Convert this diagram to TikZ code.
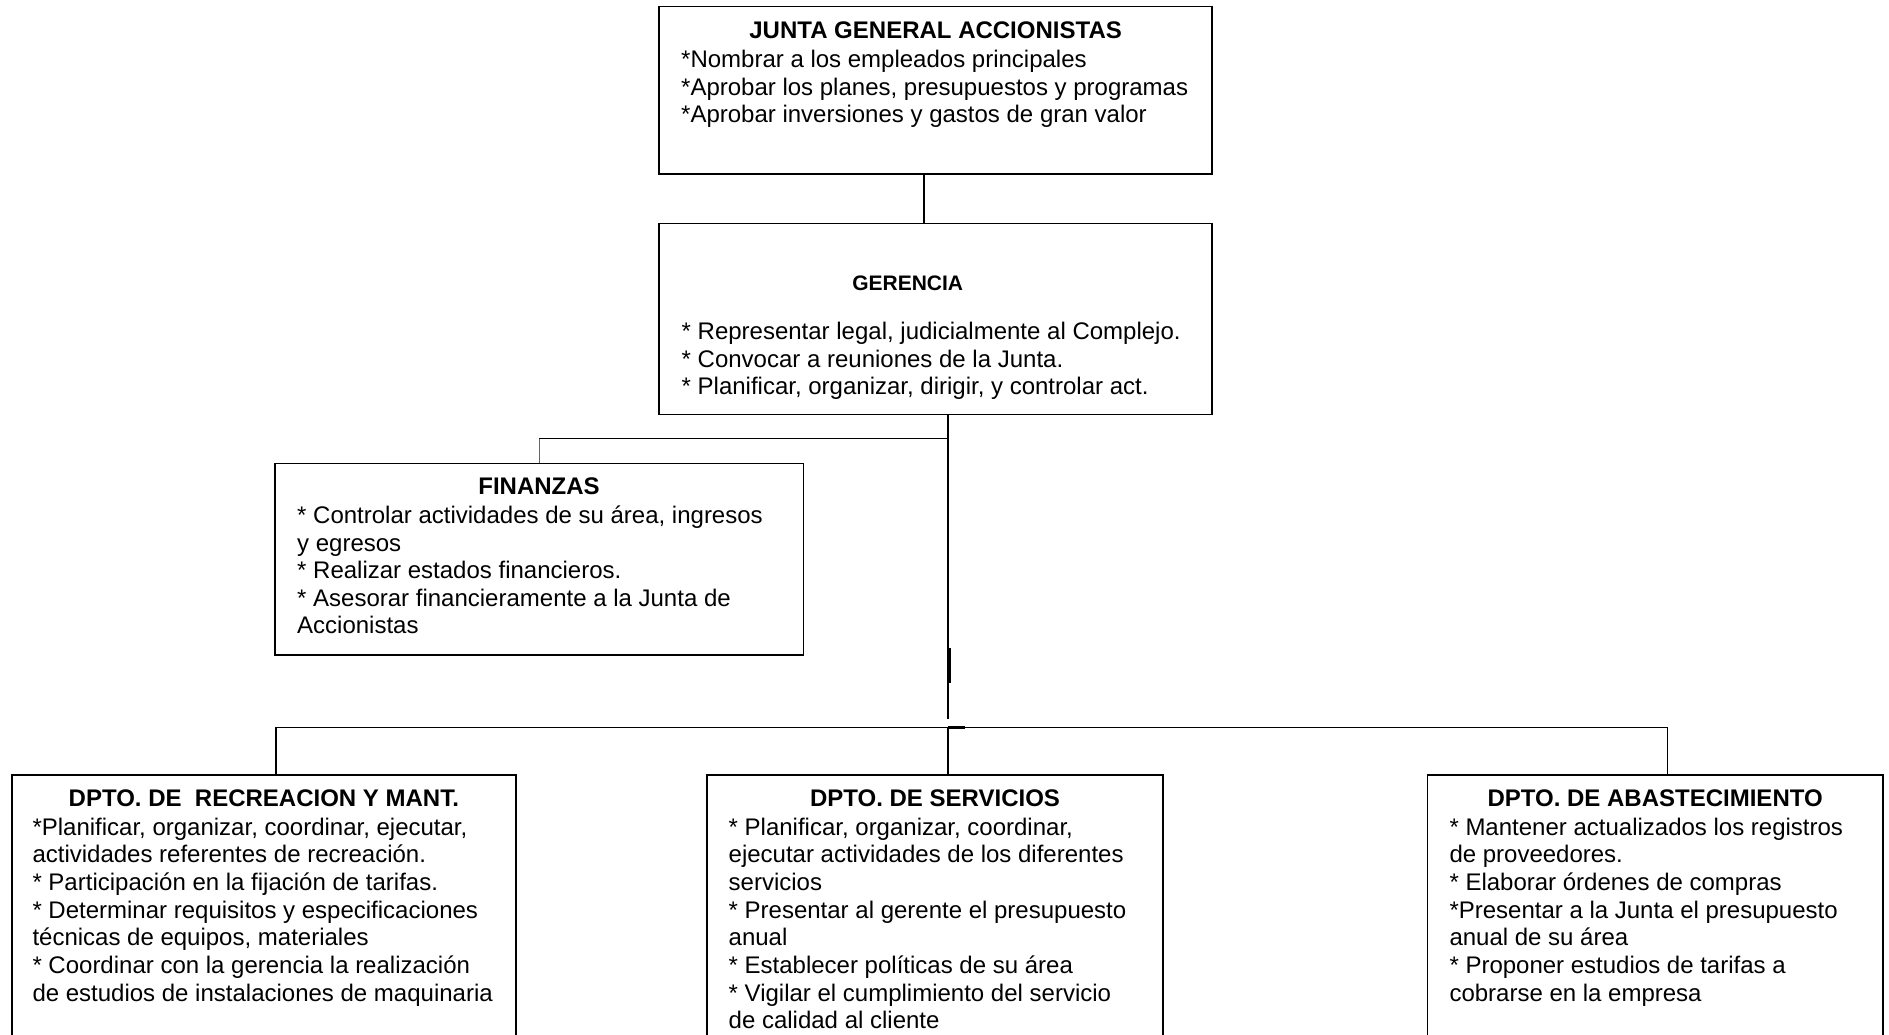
\documentclass[tikz,border=0pt]{standalone}
\usepackage{fontspec}
\setmainfont{Liberation Sans}
\newcommand{\boxlines}[5]{%
  \foreach \myline [count=\i] in {#5} {\node[txt] (#1-\i) at (#2, {#3+(\i-1)*#4}) {\myline};}}
\begin{document}
\begin{tikzpicture}[x=1pt,y=-1pt,
  box/.style={draw, line width=1.6pt, inner sep=0pt, outer sep=0pt},
  ttl/.style={font=\fontsize{24}{27}\selectfont\bfseries, inner sep=0pt, anchor=base},
  txt/.style={font=\fontsize{24}{27}\selectfont, inner sep=0pt, anchor=base west},
  conn/.style={line width=1.4pt},
  thinconn/.style={line width=0.9pt, black!60}]
\clip (0,0) rectangle (1889,1035);
\fill[white] (0,0) rectangle (1889,1035);

% boxes
\node[box, minimum width=552.7pt, minimum height=167.6pt] (junta) at (935.6,90.5) {};
\node[box, minimum width=552.7pt, minimum height=191pt] (gerencia) at (935.6,318.8) {};
\node[box, minimum width=528.5pt, minimum height=191.7pt] (finanzas) at (539.25,559.2) {};
\node[box, minimum width=504.3pt, minimum height=285pt] (recre) at (263.85,917.5) {};
\node[box, minimum width=456pt, minimum height=285pt] (serv) at (935,917.5) {};
\node[box, minimum width=455.7pt, minimum height=285pt] (abast) at (1655.15,917.5) {};

% titles
\node[ttl] (junta-t) at (935.6,39) {JUNTA GENERAL ACCIONISTAS};
\node[ttl, font=\fontsize{21}{24}\selectfont\bfseries] (gerencia-t) at (907.7,290) {GERENCIA};
\node[ttl] (finanzas-t) at (539,494.3) {FINANZAS};
\node[ttl] (recre-t) at (263.85,806.7) {DPTO. DE~ RECREACION Y MANT.};
\node[ttl] (serv-t) at (935,806.7) {DPTO. DE SERVICIOS};
\node[ttl] (abast-t) at (1655.15,806.7) {DPTO. DE ABASTECIMIENTO};

% body lines
\boxlines{junta}{681}{67.5}{27.7}{{*Nombrar a los empleados principales},{*Aprobar los planes, presupuestos y programas},{*Aprobar inversiones y gastos de gran valor}}
\boxlines{gerencia}{681.5}{339.5}{27.7}{{* Representar legal, judicialmente al Complejo.},{* Convocar a reuniones de la Junta.},{* Planificar, organizar, dirigir, y controlar act.}}
\boxlines{finanzas}{297}{523.5}{27.5}{{* Controlar actividades de su área, ingresos},{y egresos},{* Realizar estados financieros.},{* Asesorar financieramente a la Junta de},{Accionistas}}
\boxlines{recre}{32.3}{835}{27.7}{{*Planificar, organizar, coordinar, ejecutar,},{actividades referentes de recreación.},{* Participación en la fijación de tarifas.},{* Determinar requisitos y especificaciones},{técnicas de equipos, materiales},{* Coordinar con la gerencia la realización},{de estudios de instalaciones de maquinaria}}
\boxlines{serv}{728.5}{835}{27.7}{{* Planificar, organizar, coordinar,},{ejecutar actividades de los diferentes},{servicios},{* Presentar al gerente el presupuesto},{anual},{* Establecer políticas de su área},{* Vigilar el cumplimiento del servicio},{de calidad al cliente}}
\boxlines{abast}{1449.3}{835}{27.7}{{* Mantener actualizados los registros},{de proveedores.},{* Elaborar órdenes de compras},{*Presentar a la Junta el presupuesto},{anual de su área},{* Proponer estudios de tarifas a},{cobrarse en la empresa}}

% connectors
\coordinate (x1) at (924,0);
\coordinate (x2) at (948,0);
\coordinate (xl) at (276,0);
\coordinate (xr) at (1667.7,0);
\coordinate (j1) at (948,438.5);
\coordinate (j2) at (948,719);
\coordinate (h) at (948,727.5);
\coordinate (k1) at (949.5,648);
\coordinate (k2) at (949.5,683);
\coordinate (m1) at (965,727.5);

\draw[conn] (junta.south -| x1) -- (gerencia.north -| x1);
\draw[conn] (gerencia.south -| x2) -- (j2);
\draw[conn] (j1) -- (j1 -| finanzas.north);
\draw[thinconn] (j1 -| finanzas.north) -- (finanzas.north);
\draw[line width=2.6pt] (k1) -- (k2);
\draw[conn] (recre.north -| xl) |- (h) -| (abast.north -| xr);
\draw[line width=2.4pt] (h) -- (m1);
\draw[conn] (h) -- (serv.north -| x2);
\end{tikzpicture}
\end{document}
